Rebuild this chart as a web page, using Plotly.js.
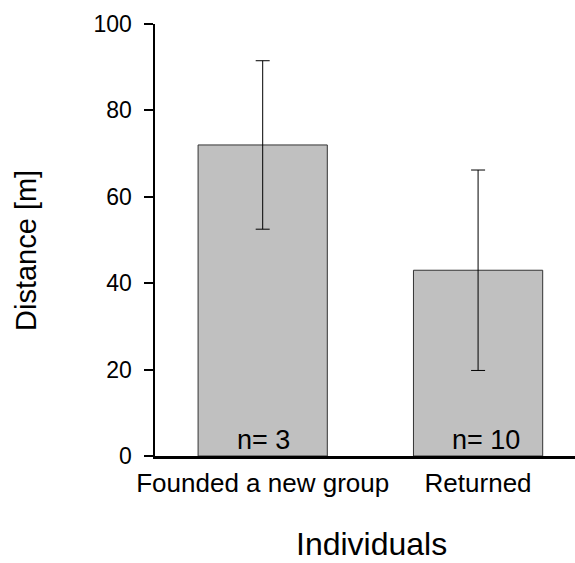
<!DOCTYPE html>
<html>
<head>
<meta charset="utf-8">
<script src="https://cdn.plot.ly/plotly-3.0.1.min.js"></script>
<style>
  html, body { margin: 0; padding: 0; background: #fff; }
  #chart { width: 575px; height: 563px; }
</style>
</head>
<body>
<div id="chart"></div>
<script>
// Mean dispersal distance per outcome group, with error bars and sample sizes
const categories = ["Founded a new group", "Returned"];
const meanDistance = [72, 43];
const errorDistance = [19.5, 23.2];
const sampleLabels = ["n= 3", "n= 10"];
const yTicks = [0, 20, 40, 60, 80, 100];

const FONT = "Liberation Sans, Arial, sans-serif";

const barTrace = {
  type: "bar",
  x: categories,
  y: meanDistance,
  width: 0.6,
  marker: { color: "#c0c0c0", line: { color: "#333", width: 1 } },
  error_y: {
    type: "data",
    array: errorDistance,
    visible: true,
    color: "#000",
    thickness: 1,
    width: 7
  },
  hoverinfo: "skip"
};

// Sample-size labels sit just above the baseline inside each bar
const nShift = [1, 8];
const annotations = categories.map((c, i) => ({
  x: c, y: 0, xref: "x", yref: "y",
  text: sampleLabels[i],
  showarrow: false,
  yanchor: "bottom",
  xanchor: "center",
  xshift: nShift[i],
  yshift: -1,
  font: { family: FONT, size: 27, color: "#000" }
}));

annotations.push({
  text: "Individuals",
  xref: "paper", yref: "paper",
  x: 0.5, y: 0, xshift: 6, yshift: -88,
  xanchor: "center", yanchor: "middle",
  showarrow: false,
  font: { family: FONT, size: 32, color: "#000" }
});

annotations.push({
  text: "Distance [m]",
  xref: "paper", yref: "paper",
  x: 0, y: 0.5, xshift: -129, yshift: -11,
  xanchor: "center", yanchor: "middle",
  textangle: -90,
  showarrow: false,
  font: { family: FONT, size: 29, color: "#000" }
});

const layout = {
  width: 575,
  height: 563,
  margin: { l: 155, r: 0, t: 24, b: 107, pad: 0 },
  paper_bgcolor: "#fff",
  plot_bgcolor: "#fff",
  showlegend: false,
  font: { family: FONT, color: "#000" },
  xaxis: {
    type: "category",
    range: [-0.5, 1.45],
    showline: true,
    linecolor: "#000",
    linewidth: 3,
    ticks: "",
    showgrid: false,
    zeroline: false,
    tickfont: { family: FONT, size: 26, color: "#000" },
    ticklabelstandoff: 2,
    fixedrange: true
  },
  yaxis: {
    range: [0, 100],
    tickvals: yTicks,
    ticktext: yTicks.map(String),
    showline: true,
    linecolor: "#000",
    linewidth: 2.5,
    ticks: "outside",
    ticklen: 9,
    tickwidth: 2,
    tickcolor: "#000",
    showgrid: false,
    zeroline: false,
    tickfont: { family: FONT, size: 23, color: "#000" },
    ticklabelstandoff: 7,
    fixedrange: true
  },
  annotations: annotations
};

Plotly.newPlot("chart", [barTrace], layout, { displayModeBar: false, staticPlot: true });
</script>
</body>
</html>
